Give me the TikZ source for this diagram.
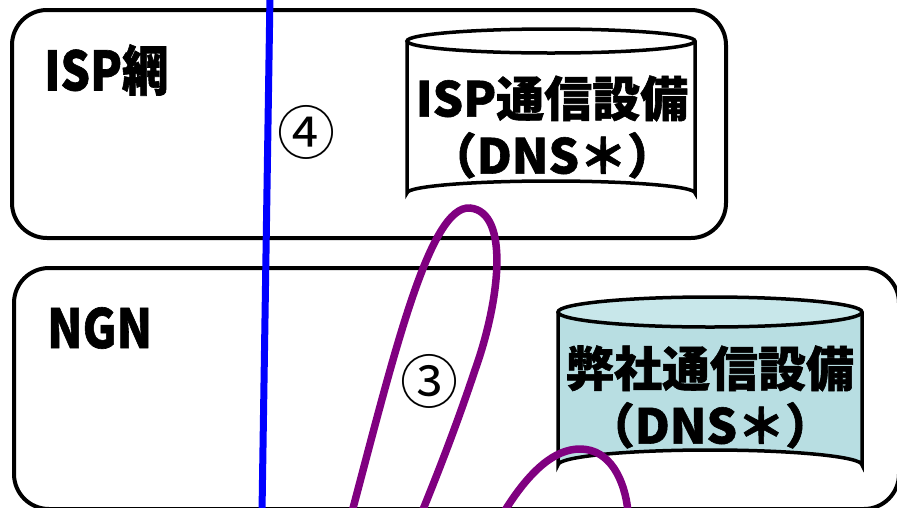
\documentclass[tikz,border=0pt]{standalone}
\usepackage{fontspec}
\newfontfamily\jp{Noto Sans CJK JP}[BoldFeatures={FakeBold=1.2}]
\definecolor{loopc}{HTML}{800080}
\definecolor{cylbody}{HTML}{B8DEE2}
\definecolor{cyltop}{HTML}{C8E7EA}
\tikzset{
  netbox/.style={draw=black, line width=4pt, rounded corners=35pt},
  cylline/.style={draw=black, line width=3.5pt},
  netlabel/.style={font=\jp\bfseries\fontsize{54}{56}\selectfont, anchor=west, inner sep=0pt, xscale=0.86},
  dnslabel/.style={font=\jp\bfseries\fontsize{48}{57}\selectfont, align=center, inner sep=0pt},
  numlabel/.style={font=\jp\fontsize{58}{60}\selectfont, inner sep=0pt},
  bluepath/.style={draw=blue, line width=7pt},
  purplepath/.style={draw=loopc, line width=7.5pt},
}
\begin{document}
\begin{tikzpicture}[x=1pt, y=-1pt]
\useasboundingbox (0,0) rectangle (897,507);
\begin{scope}
\clip (0,0) rectangle (897,507);
% boxes
\draw[netbox] (12,10) rectangle (726,238);
\node[netlabel] (isplabel) at (44,70) {ISP網};
\draw[netbox] (14,268) rectangle (899,509);
\node[netlabel] (ngnlabel) at (47,328) {NGN};

% ISP cylinder
\path[cylline, fill=white] (407,41) -- (407,193) arc[start angle=180, end angle=360, x radius=144, y radius=12] -- (695,41);
\draw[cylline, fill=white] (551,41) ellipse[x radius=144, y radius=12];
\node[dnslabel] (ispdns) at (552,127) {ISP通信設備\\（DNS＊）};

% NGN cylinder
\path[cylline, fill=cylbody] (558,312) -- (558,465) arc[start angle=180, end angle=360, x radius=152, y radius=15] -- (862,312);
\draw[cylline, fill=cyltop] (710,312) ellipse[x radius=152, y radius=15];
\node[dnslabel] (ngndns) at (710,397) {弊社通信設備\\（DNS＊）};

% numbers
\node[numlabel] (n4) at (306,132) {④};
\node[numlabel] (n3) at (429,381) {③};

% blue line
\coordinate (btop) at (270,-5);
\coordinate (bbot) at (262,512);
\draw[bluepath] (btop) -- (bbot);

% purple loops
\coordinate (l1a) at (352,512);
\coordinate (l1top) at (470,208);
\coordinate (l1mid) at (475,370);
\coordinate (l1b) at (422,512);
\draw[purplepath] (l1a) .. controls (395,350) and (430,205) .. (l1top)
  .. controls (510,212) and (500,300) .. (l1mid)
  .. controls (455,430) and (435,480) .. (l1b);
\coordinate (l2a) at (504,512);
\coordinate (l2top) at (580,449);
\coordinate (l2b) at (628,512);
\draw[purplepath] (l2a) .. controls (530,470) and (555,449) .. (l2top)
  .. controls (610,449) and (625,480) .. (l2b);
\end{scope}
\end{tikzpicture}
\end{document}
